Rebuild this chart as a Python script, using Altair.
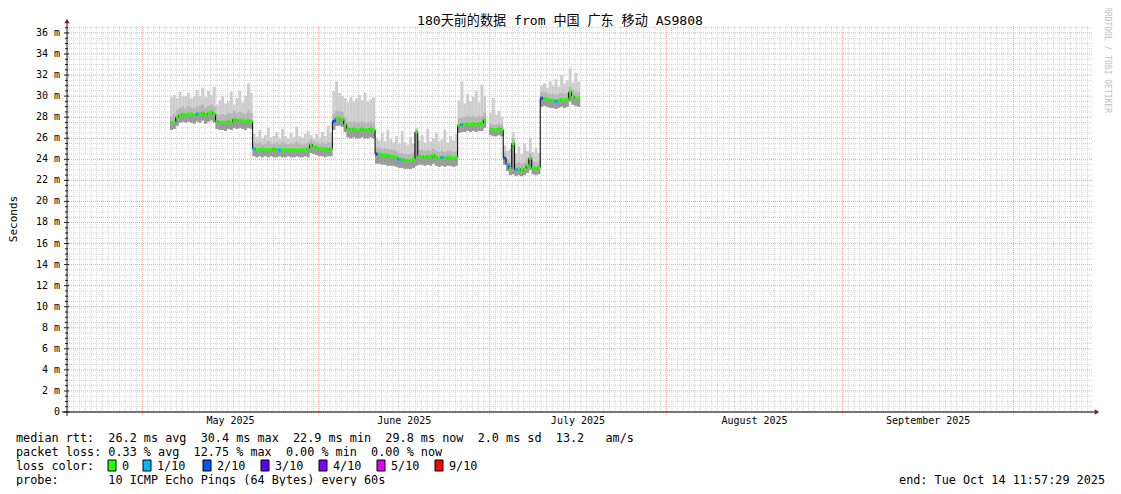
import altair as alt
import pandas as pd

# ---------------- text ----------------
TITLE = "180天前的数据 from 中国 广东 移动 AS9808"
Y_TITLE = "Seconds"
WATERMARK = "RRDTOOL / TOBI OETIKER"
LINE_RTT = "median rtt:  26.2 ms avg  30.4 ms max  22.9 ms min  29.8 ms now  2.0 ms sd  13.2   am/s"
LINE_LOSS = "packet loss: 0.33 % avg  12.75 % max  0.00 % min  0.00 % now"
LINE_COLOR = "loss color:"
LINE_PROBE = "probe:       10 ICMP Echo Pings (64 Bytes) every 60s"
LINE_END = "end: Tue Oct 14 11:57:29 2025"

# ---------------- time axis ----------------
axis_start = pd.Timestamp("2025-04-17 18:45")
axis_end = pd.Timestamp("2025-10-14 22:27")
month_starts = ["2025-05-01", "2025-06-01", "2025-07-01", "2025-08-01", "2025-09-01", "2025-10-01"]
month_labels = ["May 2025", "June 2025", "July 2025", "August 2025", "September 2025"]
first_sample = pd.Timestamp("2025-05-05 21:00")
sample_hours = 12

# ---------------- loss legend ----------------
loss_names = ["0", "1/10", "2/10", "3/10", "4/10", "5/10", "9/10"]
loss_colors = ["#26ff00", "#00b8ff", "#0059ff", "#5e00ff", "#7e00ff", "#dd00ff", "#ff0000"]

# ---------------- series (milliseconds), one value per 12 h ----------------
median_ms = [
    27.5, 27.5, 28.0, 28.2, 28.3, 28.2, 28.3, 28.3, 28.2, 28.3, 28.3, 28.4, 28.2, 28.4, 28.5, 28.3,
    27.6, 27.5, 27.5, 27.5, 27.6, 27.5, 27.8, 27.7, 27.7, 27.7, 27.6, 27.7, 27.6,
    25.0, 24.9, 24.9, 25.0, 24.9, 24.9, 24.9, 25.0, 24.9, 24.9, 24.9, 24.9, 24.9, 24.9, 24.9, 24.9,
    24.9, 24.9, 24.9, 25.0, 25.4, 25.2, 25.1, 25.0, 25.0, 25.0, 24.9, 25.0,
    27.6, 27.9, 27.9, 27.8, 27.3, 26.9, 26.8, 26.9, 26.8, 26.8, 26.9, 26.8, 26.8, 26.9, 26.8,
    24.5, 24.5, 24.4, 24.4, 24.4, 24.3, 24.3, 24.2, 24.0, 24.0, 23.9, 23.9, 23.9, 24.0, 26.6,
    24.3, 24.3, 24.2, 24.3, 24.2, 24.4, 24.2, 24.1, 24.2, 24.1, 24.2, 24.2, 24.1, 24.2,
    27.2, 27.3, 27.3, 27.4, 27.3, 27.4, 27.3, 27.4, 27.4, 27.8,
    None,
    26.9, 26.8, 26.8, 26.9, 26.8,
    24.1, 23.5, 23.1, 25.5, 23.0, 23.1, 22.9, 23.1, 23.4, 24.1, 23.2, 23.1, 23.2,
    29.8, 29.8, 29.7, 29.6, 29.6, 29.5, 29.6, 29.7, 29.6, 29.7, 30.4, 30.0, 29.8, 29.8,
]
max_ms = [
    29.9, 30.1, 29.8, 30.4, 29.9, 30.0, 30.3, 29.8, 30.0, 30.6, 30.0, 30.8, 29.9, 30.5, 30.1, 30.9,
    29.2, 29.6, 30.0, 29.3, 29.5, 30.4, 29.2, 29.8, 30.5, 29.4, 30.0, 31.2, 30.3,
    26.4, 26.1, 26.8, 26.0, 26.3, 27.0, 26.1, 26.2, 26.6, 26.0, 26.9, 26.2, 26.0, 26.5, 26.1,
    27.1, 26.2, 26.0, 26.4, 26.7, 26.3, 26.0, 26.4, 26.1, 26.6, 26.2, 27.2, 26.5,
    30.5, 31.4, 30.3, 30.0, 29.8, 29.4, 29.9, 29.5, 29.8, 30.1, 29.6, 30.3, 29.5, 29.7, 29.9,
    26.0, 25.8, 26.5, 25.7, 26.8, 25.9, 25.6, 26.2, 25.5, 26.7, 25.6, 25.4, 26.1, 25.5, 27.0,
    25.8, 26.3, 25.6, 26.9, 25.7, 26.0, 26.5, 25.7, 25.9, 26.8, 25.6, 26.2, 25.8, 26.4,
    29.6, 31.4, 29.3, 30.2, 29.5, 29.9, 30.5, 29.4, 31.1, 30.0,
    None,
    28.4, 29.8, 28.2, 28.6, 28.0,
    25.3, 24.8, 25.0, 26.6, 24.6, 25.2, 24.5, 25.5, 24.8, 26.0, 24.7, 25.1, 24.6,
    31.0, 31.2, 30.8, 31.4, 31.0, 31.6, 30.9, 32.0, 31.2, 31.5, 32.7, 31.3, 32.2, 31.4,
]
upper_ms = [
    28.1, 28.3, 28.7, 28.9, 29.0, 28.8, 29.1, 28.9, 28.8, 29.0, 29.1, 29.2, 28.9, 29.1, 29.2, 29.0,
    28.3, 28.2, 28.3, 28.2, 28.4, 28.3, 28.6, 28.4, 28.5, 28.4, 28.3, 28.6, 28.4,
    25.6, 25.5, 25.6, 25.4, 25.5, 25.7, 25.5, 25.5, 25.6, 25.4, 25.6, 25.5, 25.4, 25.5, 25.5,
    25.7, 25.5, 25.4, 25.5, 25.6, 25.9, 25.7, 25.6, 25.5, 25.6, 25.5, 25.6, 25.6,
    28.3, 28.6, 28.6, 28.5, 28.0, 27.6, 27.5, 27.6, 27.5, 27.5, 27.6, 27.5, 27.5, 27.6, 27.5,
    25.1, 25.1, 25.0, 25.0, 25.0, 24.9, 24.9, 24.8, 24.6, 24.6, 24.5, 24.5, 24.5, 24.6, 26.8,
    24.9, 24.9, 24.8, 24.9, 24.8, 25.0, 24.8, 24.7, 24.8, 24.7, 24.8, 24.8, 24.7, 24.8,
    27.9, 28.0, 28.0, 28.1, 28.0, 28.1, 28.0, 28.1, 28.1, 28.4,
    None,
    27.4, 27.3, 27.3, 27.4, 27.3,
    24.6, 24.0, 23.7, 26.0, 23.6, 23.7, 23.6, 23.7, 24.0, 24.6, 23.8, 23.7, 23.8,
    30.4, 30.4, 30.3, 30.2, 30.2, 30.1, 30.2, 30.3, 30.2, 30.3, 30.9, 30.6, 30.4, 30.4,
]
min_ms = [
    26.8, 26.9, 27.2, 27.5, 27.6, 27.5, 27.6, 27.5, 27.4, 27.6, 27.5, 27.7, 27.4, 27.6, 27.7, 27.5,
    26.9, 26.8, 26.8, 26.7, 26.9, 26.8, 27.0, 26.9, 27.0, 26.9, 26.8, 27.0, 26.9,
    24.3, 24.2, 24.3, 24.2, 24.3, 24.2, 24.3, 24.2, 24.2, 24.3, 24.2, 24.2, 24.3, 24.2, 24.2,
    24.3, 24.2, 24.2, 24.3, 24.2, 24.6, 24.5, 24.4, 24.3, 24.3, 24.2, 24.3, 24.3,
    26.8, 27.2, 27.2, 27.1, 26.6, 26.1, 26.0, 26.1, 26.0, 26.0, 26.1, 26.0, 26.0, 26.1, 26.0,
    23.6, 23.6, 23.5, 23.5, 23.4, 23.4, 23.4, 23.3, 23.2, 23.2, 23.1, 23.1, 23.1, 23.2, 23.4,
    23.5, 23.5, 23.4, 23.5, 23.4, 23.6, 23.4, 23.3, 23.4, 23.3, 23.4, 23.4, 23.3, 23.4,
    26.5, 26.6, 26.6, 26.7, 26.6, 26.7, 26.6, 26.7, 26.7, 27.0,
    None,
    26.3, 26.2, 26.2, 26.3, 26.2,
    23.5, 22.9, 22.5, 22.6, 22.4, 22.5, 22.4, 22.5, 22.7, 23.0, 22.6, 22.5, 22.6,
    29.0, 29.1, 29.0, 28.9, 28.9, 28.8, 28.9, 29.0, 28.9, 29.0, 29.5, 29.2, 29.1, 29.0,
]
# samples whose median was drawn with a loss colour other than "0" (by sample number)
loss_events = {9: "1/10", 29: "1/10", 38: "1/10", 57: "2/10", 72: "2/10", 80: "1/10",
               95: "1/10", 102: "1/10", 117: "2/10", 118: "1/10", 121: "1/10",
               130: "2/10", 135: "1/10"}

# ---------------- grid values ----------------
y_major = list(range(0, 37, 2))
y_minor = [v / 2 for v in range(1, 74) if v % 4 != 0]

# ---------------- build tables ----------------
def ms(ts):
    return int((pd.Timestamp(ts) - pd.Timestamp("1970-01-01")) / pd.Timedelta(milliseconds=1))

step = pd.Timedelta(hours=sample_hours)
n = len(median_ms)
t0 = [first_sample + k * step for k in range(n)]
grp, g = [], 0
for v in median_ms:
    if v is None:
        g += 1
    grp.append(g)
df = pd.DataFrame({
    "t": [ms(t) for t in t0],
    "t2": [ms(t + step) for t in t0],
    "median": median_ms, "max": max_ms, "upper": upper_ms, "min": min_ms,
    "loss": [loss_events.get(k, "0") for k in range(n)],
    "grp": grp,
})
df_med = df.dropna()

days = pd.date_range(axis_start.ceil("D"), axis_end, freq="D")
df_xminor = pd.DataFrame({"t": [ms(d) for d in days if d.day != 1]})
df_xmajor = pd.DataFrame({"t": [ms(m) for m in month_starts]})
mids = [pd.Timestamp(month_starts[i]) + (pd.Timestamp(month_starts[i + 1]) - pd.Timestamp(month_starts[i])) / 2
        for i in range(len(month_labels))]
df_months = pd.DataFrame({"t": [ms(m) for m in mids], "label": month_labels})
df_ymajor = pd.DataFrame({"v": y_major})
df_yminor = pd.DataFrame({"v": y_minor})

# ---------------- layout ----------------
W, H = 1026, 386
FONT = "DejaVu Sans Mono"
xs = alt.Scale(domain=[ms(axis_start), ms(axis_end)], nice=False, zero=False)
ys = alt.Scale(domain=[0, 36.66], nice=False, zero=False)
NB = "\u00a0"

def X(field="t"):
    return alt.X(f"{field}:Q", scale=xs, axis=None)

def Y(field):
    return alt.Y(f"{field}:Q", scale=ys, axis=None)

one = pd.DataFrame({"a": [0]})

layers = []
# minor grid
GRID = "#d4d4d4"
MGRID = "#f2a0a0"
layers.append(alt.Chart(df_xminor).mark_rule(color=GRID, strokeWidth=1, strokeDash=[1, 1]).encode(
    x=X(), y=alt.value(0), y2=alt.value(H)))
layers.append(alt.Chart(df_yminor).mark_rule(color=GRID, strokeWidth=1, strokeDash=[1, 1]).encode(
    y=Y("v"), x=alt.value(0), x2=alt.value(W)))
# major grid
layers.append(alt.Chart(df_xmajor).mark_rule(color=MGRID, strokeWidth=1, strokeDash=[1, 1]).encode(
    x=X(), y=alt.value(0), y2=alt.value(H + 3)))
layers.append(alt.Chart(df_ymajor).mark_rule(color=MGRID, strokeWidth=1, strokeDash=[1, 1]).encode(
    y=Y("v"), x=alt.value(0), x2=alt.value(W)))

# smoke
layers.append(alt.Chart(df).mark_rect(color="#cdcdcd").encode(x=X(), x2="t2:Q", y=Y("min"), y2="max:Q"))
layers.append(alt.Chart(df).mark_rect(color="#b6b6b6").encode(x=X(), x2="t2:Q", y=Y("min"), y2="upper:Q"))
layers.append(alt.Chart(df).mark_rect(color="#999999").encode(x=X(), x2="t2:Q", y=Y("min"), y2="median:Q"))

# median: thin black step line + loss-coloured segments
layers.append(alt.Chart(df_med).mark_line(color="#000000", strokeWidth=1, interpolate="step-after").encode(
    x=X(), y=Y("median"), detail="grp:N"))
layers.append(alt.Chart(df_med).mark_rule(strokeWidth=3).encode(
    x=X(), x2="t2:Q", y=Y("median"),
    color=alt.Color("loss:N", scale=alt.Scale(domain=loss_names, range=loss_colors), legend=None)))

# axes lines, ticks and arrows
AX = "#1f1f1f"
layers.append(alt.Chart(df_yminor).mark_rule(color=AX).encode(y=Y("v"), x=alt.value(-2), x2=alt.value(1)))
layers.append(alt.Chart(df_ymajor).mark_rule(color=AX).encode(y=Y("v"), x=alt.value(-3), x2=alt.value(2)))
layers.append(alt.Chart(one).mark_rule(color=AX).encode(x=alt.value(0), y=alt.value(-4), y2=alt.value(H + 4)))
layers.append(alt.Chart(one).mark_rule(color="#000000").encode(y=alt.value(H), x=alt.value(-5), x2=alt.value(W + 2)))
layers.append(alt.Chart(one).mark_point(shape="triangle-up", filled=True, size=28, color="#7f1f1f", opacity=1).encode(
    x=alt.value(0), y=alt.value(-5)))
layers.append(alt.Chart(one).mark_point(shape="triangle-right", filled=True, size=28, color="#7f1f1f", opacity=1).encode(
    x=alt.value(W + 4), y=alt.value(H)))

# y tick labels
layers.append(alt.Chart(df_ymajor).transform_calculate(
    lab=f"datum.v == 0 ? '0{NB}{NB}' : datum.v + '{NB}m'"
).mark_text(font=FONT, fontSize=10, color="#000000", align="right", baseline="middle").encode(
    y=Y("v"), x=alt.value(-7), text="lab:N"))

# month labels
layers.append(alt.Chart(df_months).mark_text(font=FONT, fontSize=10, color="#000000", baseline="middle").encode(
    x=X(), y=alt.value(H + 9), text="label:N"))

# title, axis title, watermark
def txt(s, x, y, size, align="left", angle=0, color="#000000", font=FONT):
    return alt.Chart(one).mark_text(font=font, fontSize=size, align=align, baseline="middle",
                                    angle=angle, color=color).encode(
        x=alt.value(x), y=alt.value(y), text=alt.value(s.replace(" ", NB)))

layers.append(txt(TITLE, 493, -5, 13.1, align="center", font="DejaVu Sans Mono, Noto Sans CJK SC"))
layers.append(txt(Y_TITLE, -53, 193, 11, align="center", angle=270))
layers.append(txt(WATERMARK, 1040, 34, 8, align="center", angle=90, color="#c0c0c0"))

# bottom legend
LX = -51
LS = 11.8
layers.append(txt(LINE_RTT, LX, 412, LS))
layers.append(txt(LINE_LOSS, LX, 426, LS))
layers.append(txt(LINE_COLOR, LX, 440, LS))
layers.append(txt(LINE_PROBE, LX, 454, LS))
layers.append(txt(LINE_END, 1038, 454, LS, align="right"))

box_x = [108, 143, 203, 261, 319, 377, 435]
for bx, name, col in zip(box_x, loss_names, loss_colors):
    rx = bx - 67
    layers.append(alt.Chart(one).mark_rect(fill=col, stroke="#000000", strokeWidth=1).encode(
        x=alt.value(rx), x2=alt.value(rx + 8), y=alt.value(434), y2=alt.value(445)))
    layers.append(txt(name, rx + 14, 440, LS))

chart = alt.layer(*layers).properties(
    width=W, height=H,
    autosize=alt.AutoSizeParams(type="none"),
    padding={"left": 59, "top": 18, "right": 20, "bottom": 74},
    background="#ffffff",
).configure_view(stroke=None)

chart.save("out.html", embed_options={"renderer": "svg", "actions": False})
